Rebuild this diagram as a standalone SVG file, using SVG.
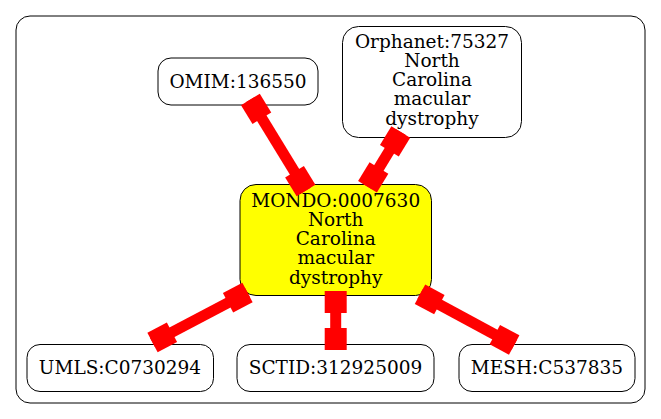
<svg xmlns="http://www.w3.org/2000/svg" width="661" height="419" viewBox="0 0 661 419">
<style>
.n{fill:#ffffff;stroke:#000000;stroke-width:1}
.t{font-family:"DejaVu Serif",serif;font-size:18.5px;text-anchor:middle;fill:#000000}
.e{stroke:#ff0000;stroke-width:11;fill:none;marker-start:url(#box);marker-end:url(#box)}
</style>
<defs>
<marker id="box" markerUnits="userSpaceOnUse" viewBox="-24 -12 24 24" refX="0" refY="0" markerWidth="24" markerHeight="24" orient="auto-start-reverse" overflow="visible">
<rect x="-22" y="-11" width="22" height="22" fill="#ff0000"/>
</marker>
</defs>
<rect width="661" height="419" fill="#ffffff"/>
<g id="cluster">
<rect x="16" y="16" width="629" height="387" rx="14" ry="14" fill="none" stroke="#000000" stroke-width="1"/>
</g>
<g id="OMIM">
<rect class="n" x="158" y="58" width="160" height="47" rx="13" ry="13"/>
<text class="t" x="238" y="87.5">OMIM:136550</text>
</g>
<g id="Orphanet">
<rect class="n" x="342.5" y="26.5" width="179" height="111" rx="16" ry="16"/>
<text class="t" x="432" y="47.5">Orphanet:75327</text>
<text class="t" x="432" y="66.8">North</text>
<text class="t" x="432" y="86.1">Carolina</text>
<text class="t" x="432" y="105.4">macular</text>
<text class="t" x="432" y="124.7">dystrophy</text>
</g>
<g id="MONDO">
<rect x="240" y="184.5" width="191.5" height="111" rx="16" ry="16" fill="#ffff00" stroke="#000000" stroke-width="1"/>
<text class="t" x="335.7" y="206.5">MONDO:0007630</text>
<text class="t" x="335.7" y="225.8">North</text>
<text class="t" x="335.7" y="245.1">Carolina</text>
<text class="t" x="335.7" y="264.4">macular</text>
<text class="t" x="335.7" y="283.7">dystrophy</text>
</g>
<g id="UMLS">
<rect class="n" x="27" y="344.5" width="186.5" height="47" rx="13" ry="13"/>
<text class="t" x="120" y="373.5">UMLS:C0730294</text>
</g>
<g id="SCTID">
<rect class="n" x="237" y="344.5" width="197" height="47" rx="13" ry="13"/>
<text class="t" x="335.5" y="373.5">SCTID:312925009</text>
</g>
<g id="MESH">
<rect class="n" x="459" y="344.5" width="176" height="47" rx="13" ry="13"/>
<text class="t" x="547" y="373.5">MESH:C537835</text>
</g>
<g id="edges">
<line class="e" x1="250.4" y1="99.5" x2="306" y2="190.5"/>
<line class="e" x1="400.8" y1="132" x2="367.5" y2="186.7"/>
<line class="e" x1="247.5" y1="292.5" x2="152.5" y2="342.5"/>
<line class="e" x1="335.7" y1="291" x2="335.7" y2="350"/>
<line class="e" x1="420" y1="294.2" x2="514.2" y2="345"/>
</g>
</svg>
